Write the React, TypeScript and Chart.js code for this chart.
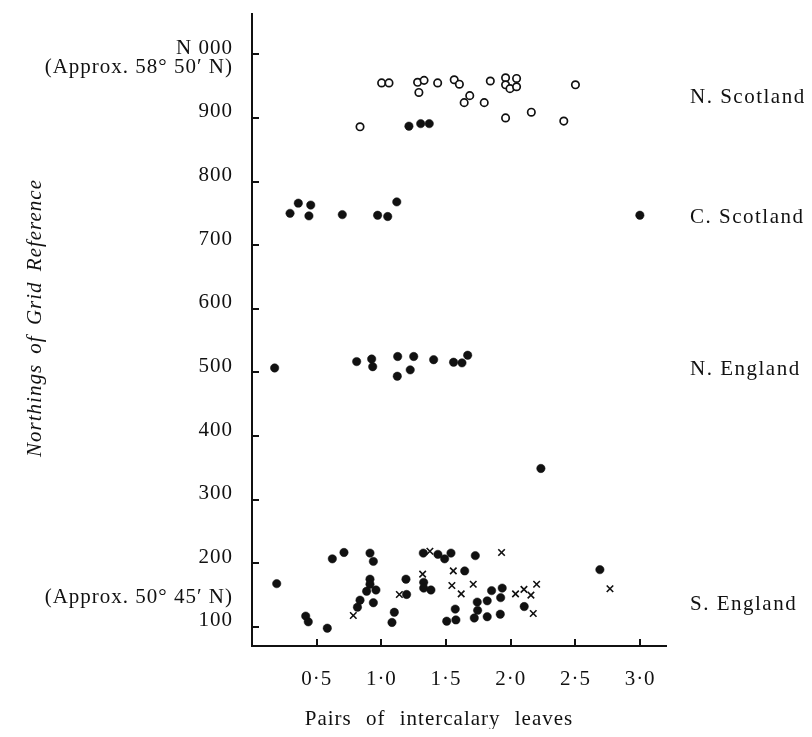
import React, { useEffect, useRef } from 'react';
import { Chart, registerables } from 'chart.js';

Chart.register(...registerables);

// N. Scotland, open circles
const nScotOpenX = [0.835, 1.002, 1.059, 1.28, 1.33, 1.29, 1.435, 1.563, 1.603, 1.683, 1.64, 1.795, 1.842, 1.96, 1.96, 1.994, 2.045, 2.045, 1.96, 2.159, 2.41, 2.5];
const nScotOpenY = [886, 955, 955, 956, 959, 940, 955, 960, 953, 935, 924, 924, 958, 963, 952, 946, 962, 949, 900, 909, 895, 952];

// N. Scotland, filled circles
const nScotFilledX = [1.213, 1.304, 1.37];
const nScotFilledY = [887, 891, 891];

// C. Scotland
const cScotX = [0.294, 0.358, 0.454, 0.44, 0.698, 0.971, 1.049, 1.119, 2.998];
const cScotY = [750, 766, 763, 746, 748, 747, 745, 768, 747];

// N. England
const nEngX = [0.175, 0.809, 0.925, 0.933, 1.126, 1.123, 1.223, 1.25, 1.404, 1.558, 1.623, 1.667, 2.233];
const nEngY = [507, 517, 521, 509, 525, 494, 504, 525, 520, 516, 515, 527, 349];

// S. England, filled circles
const sEngFilledX = [0.191, 0.415, 0.435, 0.582, 0.621, 0.711, 0.912, 0.938, 0.912, 0.912, 0.886, 0.958, 0.938, 0.835, 0.815, 1.19, 1.195, 1.1, 1.082, 1.324, 1.437, 1.489, 1.538, 1.726, 1.327, 1.327, 1.383, 1.644, 1.571, 1.505, 1.576, 1.741, 1.744, 1.718, 1.818, 1.818, 1.852, 1.934, 1.922, 1.919, 2.104, 2.689];
const sEngFilledY = [168, 117, 108, 98, 207, 217, 216, 203, 175, 167, 156, 158, 138, 142, 131, 175, 151, 123, 107, 216, 214, 207, 216, 212, 170, 161, 158, 188, 128, 109, 111, 139, 126, 114, 141, 116, 157, 161, 146, 120, 132, 190];

// S. England, crosses
const sEngCrossX = [0.783, 1.139, 1.319, 1.375, 1.556, 1.545, 1.617, 1.71, 1.929, 2.037, 2.102, 2.156, 2.2, 2.174, 2.767];
const sEngCrossY = [118, 151, 183, 219, 188, 165, 152, 167, 217, 152, 159, 150, 167, 121, 160];

const xTickValues = [0.5, 1.0, 1.5, 2.0, 2.5, 3.0];
const xTickLabels = ['0·5', '1·0', '1·5', '2·0', '2·5', '3·0'];
const yTickValues = [100, 200, 300, 400, 500, 600, 700, 800, 900, 1000];
const yLabelValues = [1000, 970, 900, 800, 700, 600, 500, 400, 300, 200, 137, 100];
const yLabelTexts = ['N 000', '(Approx. 58° 50′ N)', '900', '800', '700', '600', '500', '400', '300', '200', '(Approx. 50° 45′ N)', '100'];
const regionNames = ['N. Scotland', 'C. Scotland', 'N. England', 'S. England'];
const regionValues = [932, 744, 504, 135];
const xTitle = 'Pairs of intercalary leaves';
const yTitle = 'Northings of Grid Reference';

const FONT = '"Liberation Serif", "Times New Roman", serif';
const INK = '#111';

const zip = (xs: number[], ys: number[]) => xs.map((x, i) => ({ x, y: ys[i] }));

const decorPlugin = {
  id: 'decor',
  beforeDraw(chart: any) {
    (chart.ctx as any).letterSpacing = '1px';
  },
  afterDraw(chart: any) {
    const { ctx, chartArea } = chart;
    const xs = chart.scales.x;
    const ys = chart.scales.y;
    ctx.save();
    ctx.strokeStyle = INK;
    ctx.lineWidth = 2;
    yTickValues.forEach((v) => {
      const py = Math.round(ys.getPixelForValue(v));
      ctx.beginPath();
      ctx.moveTo(chartArea.left, py);
      ctx.lineTo(chartArea.left + 7, py);
      ctx.stroke();
    });
    xTickValues.forEach((v) => {
      const px = Math.round(xs.getPixelForValue(v));
      ctx.beginPath();
      ctx.moveTo(px, chartArea.bottom);
      ctx.lineTo(px, chartArea.bottom - 7);
      ctx.stroke();
    });

    ctx.fillStyle = INK;
    ctx.font = `21px ${FONT}`;
    ctx.textBaseline = 'middle';
    ctx.textAlign = 'left';
    (ctx as any).letterSpacing = '1.5px';
    regionNames.forEach((n, i) => {
      ctx.fillText(n, chartArea.right + 24, ys.getPixelForValue(regionValues[i]));
    });

    (ctx as any).letterSpacing = '1px';
    (ctx as any).wordSpacing = '8px';
    ctx.textAlign = 'center';
    ctx.fillText(xTitle, chartArea.left + 187, chartArea.bottom + 73);

    (ctx as any).wordSpacing = '4px';
    ctx.font = `italic 21px ${FONT}`;
    ctx.translate(27, 310);
    ctx.rotate(-Math.PI / 2);
    ctx.fillText(yTitle, 0, 0);
    ctx.restore();
  },
};

export default function App() {
  const ref = useRef<HTMLCanvasElement>(null);

  useEffect(() => {
    if (!ref.current) return;
    const filled = { pointRadius: 4.2, pointBorderWidth: 0.5, pointBackgroundColor: INK, pointBorderColor: INK };
    const chart = new Chart(ref.current, {
      type: 'scatter',
      data: {
        datasets: [
          {
            label: 'N. Scotland (open)',
            data: zip(nScotOpenX, nScotOpenY),
            pointStyle: 'circle',
            pointRadius: 3.7,
            pointBorderWidth: 1.7,
            pointBackgroundColor: '#fff',
            pointBorderColor: INK,
          },
          { label: 'N. Scotland', data: zip(nScotFilledX, nScotFilledY), ...filled },
          { label: 'C. Scotland', data: zip(cScotX, cScotY), ...filled },
          { label: 'N. England', data: zip(nEngX, nEngY), ...filled },
          { label: 'S. England', data: zip(sEngFilledX, sEngFilledY), ...filled },
          {
            label: 'S. England (crosses)',
            data: zip(sEngCrossX, sEngCrossY),
            pointStyle: 'crossRot',
            pointRadius: 4.6,
            pointBorderWidth: 1.6,
            pointBorderColor: INK,
          },
        ],
      },
      options: {
        animation: false,
        responsive: false,
        devicePixelRatio: 1,
        events: [],
        layout: { padding: { left: 0, top: 0, right: 138, bottom: 0 } },
        plugins: { legend: { display: false }, tooltip: { enabled: false } },
        scales: {
          x: {
            type: 'linear',
            min: 0,
            max: 3.2,
            grid: { display: false, drawTicks: false },
            border: { display: true, color: INK, width: 2 },
            afterBuildTicks: (scale: any) => {
              scale.ticks = xTickValues.map((v) => ({ value: v }));
            },
            afterFit: (scale: any) => {
              scale.height = 83;
              scale.paddingLeft = 0;
              scale.paddingRight = 0;
            },
            ticks: {
              autoSkip: false,
              maxRotation: 0,
              padding: 21,
              color: INK,
              font: { family: FONT, size: 21 },
              callback: (_v: any, i: number) => xTickLabels[i],
            },
          },
          y: {
            type: 'linear',
            min: 70,
            max: 1063,
            grid: { display: false, drawTicks: false },
            border: { display: true, color: INK, width: 2 },
            afterBuildTicks: (scale: any) => {
              scale.ticks = yLabelValues.map((v) => ({ value: v }));
            },
            afterFit: (scale: any) => {
              scale.width = 244;
              scale.paddingTop = 0;
              scale.paddingBottom = 0;
            },
            ticks: {
              autoSkip: false,
              padding: 19,
              labelOffset: -6,
              color: INK,
              font: { family: FONT, size: 21 },
              callback: (_v: any, i: number) => yLabelTexts[i],
            },
          },
        },
      },
      plugins: [decorPlugin],
    });
    return () => chart.destroy();
  }, []);

  return (
    <div style={{ width: 796, height: 721 }}>
      <canvas ref={ref} width={796} height={721} style={{ display: 'block' }} />
    </div>
  );
}
